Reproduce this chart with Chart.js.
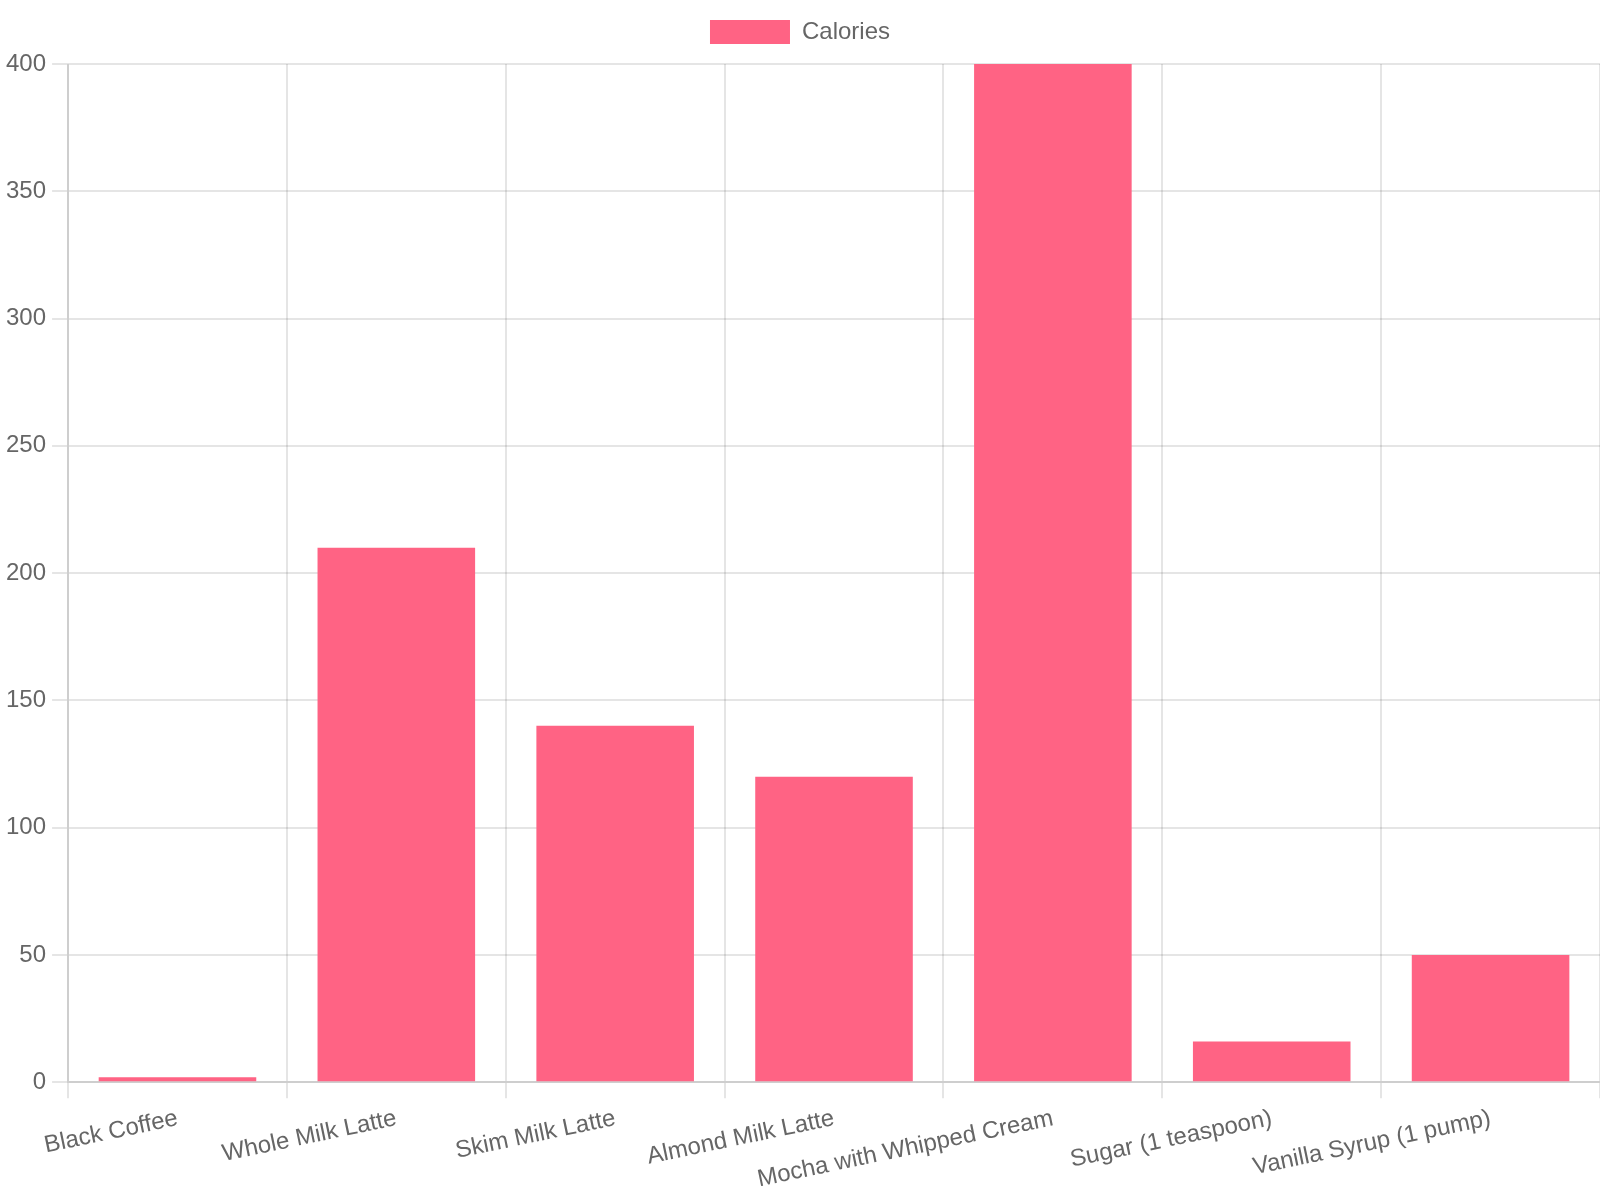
<!DOCTYPE html>
<html>
<head>
<meta charset="utf-8">
<script src="https://cdn.jsdelivr.net/npm/chart.js@4/dist/chart.umd.min.js"></script>
<style>
  html, body { margin: 0; padding: 0; background: #fff; overflow: hidden; }
  /* drawn at 800x600 with pixel ratio 2, then shown at 1600x1200 */
  #wrap { width: 800px; height: 600px; zoom: 2; }
</style>
</head>
<body>
<div id="wrap"><canvas id="caloriesChart" width="800" height="600"></canvas></div>
<script>
const drinks = ['Black Coffee', 'Whole Milk Latte', 'Skim Milk Latte', 'Almond Milk Latte',
    'Mocha with Whipped Cream', 'Sugar (1 teaspoon)', 'Vanilla Syrup (1 pump)'];
const calories = [2, 210, 140, 120, 400, 16, 50];

const ctx = document.getElementById('caloriesChart');
new Chart(ctx, {
    type: 'bar',
    data: {
        labels: drinks,
        datasets: [{
            label: 'Calories',
            data: calories,
            backgroundColor: 'rgb(255, 99, 132)',
        }],
    },
    options: {
        responsive: false,
        animation: false,
        devicePixelRatio: 2,
        scales: {
            y: {
                beginAtZero: true,
            },
        },
    },
});
</script>
</body>
</html>
